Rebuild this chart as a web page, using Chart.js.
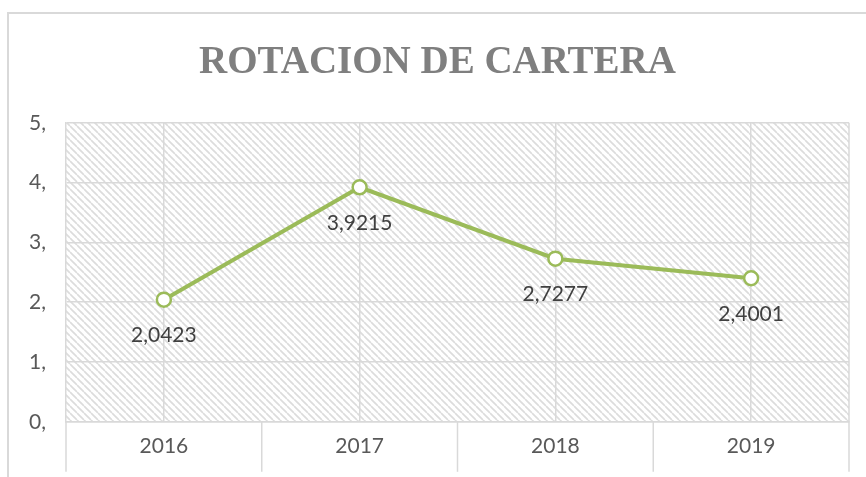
<!DOCTYPE html>
<html>
<head>
<meta charset="utf-8">
<script src="https://cdn.jsdelivr.net/npm/chart.js@4"></script>
<style>
  html, body { margin: 0; padding: 0; background: #fff; overflow: hidden; }
  #frame {
    position: absolute; left: 7px; top: 12px; width: 900px; height: 500px;
    border-left: 2px solid #d9d9d9; border-top: 2px solid #d9d9d9;
  }
  #chart { position: absolute; left: 0; top: 0; }
</style>
</head>
<body>
<div id="frame"></div>
<canvas id="chart" width="866" height="477"></canvas>
<script>
// --- DATA ---
const years = ["2016", "2017", "2018", "2019"];
const rotacion = [2.0423, 3.9215, 2.7277, 2.4001];
const rotacionLabels = ["2,0423", "3,9215", "2,7277", "2,4001"];
const yTickLabels = ["0,", "1,", "2,", "3,", "4,", "5,"];

// --- STYLE ---
const GRID = "#d9d9d9";
const TEXT = "#595959";
const LINE = "#9bbb59";
const tickFont = { family: "Lato", size: 21 };

// hatched plot background (wide downward diagonal)
function makeHatch() {
  const s = 7;
  const tile = document.createElement("canvas");
  tile.width = s; tile.height = s;
  const c = tile.getContext("2d");
  c.fillStyle = "#fff";
  c.fillRect(0, 0, s, s);
  c.strokeStyle = "#dcdcdc";
  c.lineWidth = 1.7;
  for (const off of [-s, 0, s]) {
    c.beginPath();
    c.moveTo(off, 0);
    c.lineTo(off + s, s);
    c.stroke();
  }
  return tile;
}

const hatchPlugin = {
  id: "hatch",
  beforeDraw(chart) {
    const { ctx, chartArea: a } = chart;
    ctx.save();
    ctx.fillStyle = ctx.createPattern(makeHatch(), "repeat");
    ctx.fillRect(a.left, a.top, a.right - a.left, a.bottom - a.top);
    ctx.restore();
  }
};

// category dividers below the axis, plus the right edge of the plot
const dividers = {
  id: "dividers",
  afterDraw(chart) {
    const { ctx, chartArea: a } = chart;
    const xs = chart.scales.x;
    const n = years.length;
    const pos = [a.left];
    for (let i = 0; i < n - 1; i++) {
      pos.push((xs.getPixelForTick(i) + xs.getPixelForTick(i + 1)) / 2);
    }
    pos.push(a.right);
    ctx.save();
    ctx.strokeStyle = GRID;
    ctx.lineWidth = 1.5;
    pos.forEach((x, i) => {
      ctx.beginPath();
      ctx.moveTo(x, i === n ? a.top : a.bottom);
      ctx.lineTo(x, a.bottom + 50);
      ctx.stroke();
    });
    ctx.restore();
  }
};

const valueLabels = {
  id: "valueLabels",
  afterDatasetsDraw(chart) {
    const { ctx } = chart;
    const meta = chart.getDatasetMeta(0);
    ctx.save();
    ctx.font = "21px Lato";
    ctx.fillStyle = "#404040";
    ctx.textAlign = "center";
    ctx.textBaseline = "middle";
    meta.data.forEach((pt, i) => {
      ctx.fillText(rotacionLabels[i], pt.x, pt.y + 36);
    });
    ctx.restore();
  }
};

new Chart(document.getElementById("chart"), {
  type: "line",
  data: {
    labels: years,
    datasets: [{
      data: rotacion,
      borderColor: LINE,
      borderWidth: 4,
      tension: 0,
      pointRadius: 7,
      pointHoverRadius: 7,
      pointBorderWidth: 2.5,
      pointBorderColor: LINE,
      pointBackgroundColor: "#fff"
    }]
  },
  options: {
    responsive: false,
    animation: false,
    events: [],
    layout: { padding: { left: 26, right: 17, top: 0, bottom: 6 } },
    plugins: {
      legend: { display: false },
      tooltip: { enabled: false },
      title: {
        display: true,
        text: "ROTACION DE CARTERA",
        color: "#7f7f7f",
        font: { family: "Liberation Serif", size: 39, weight: "bold" },
        padding: { top: 40, bottom: 36 }
      }
    },
    scales: {
      x: {
        offset: true,
        grid: { offset: false, color: GRID, drawTicks: false, lineWidth: 1.5 },
        border: { color: GRID, width: 1.5 },
        ticks: { color: TEXT, font: tickFont, padding: 12 }
      },
      y: {
        min: 0,
        max: 5,
        afterFit: (s) => { s.width = 40; },
        grid: { color: GRID, drawTicks: false, lineWidth: 1.5 },
        border: { color: GRID, width: 1.5 },
        ticks: {
          stepSize: 1,
          color: TEXT,
          font: tickFont,
          padding: 20,
          callback: (v, i) => yTickLabels[i]
        }
      }
    }
  },
  plugins: [hatchPlugin, dividers, valueLabels]
});
</script>
</body>
</html>
